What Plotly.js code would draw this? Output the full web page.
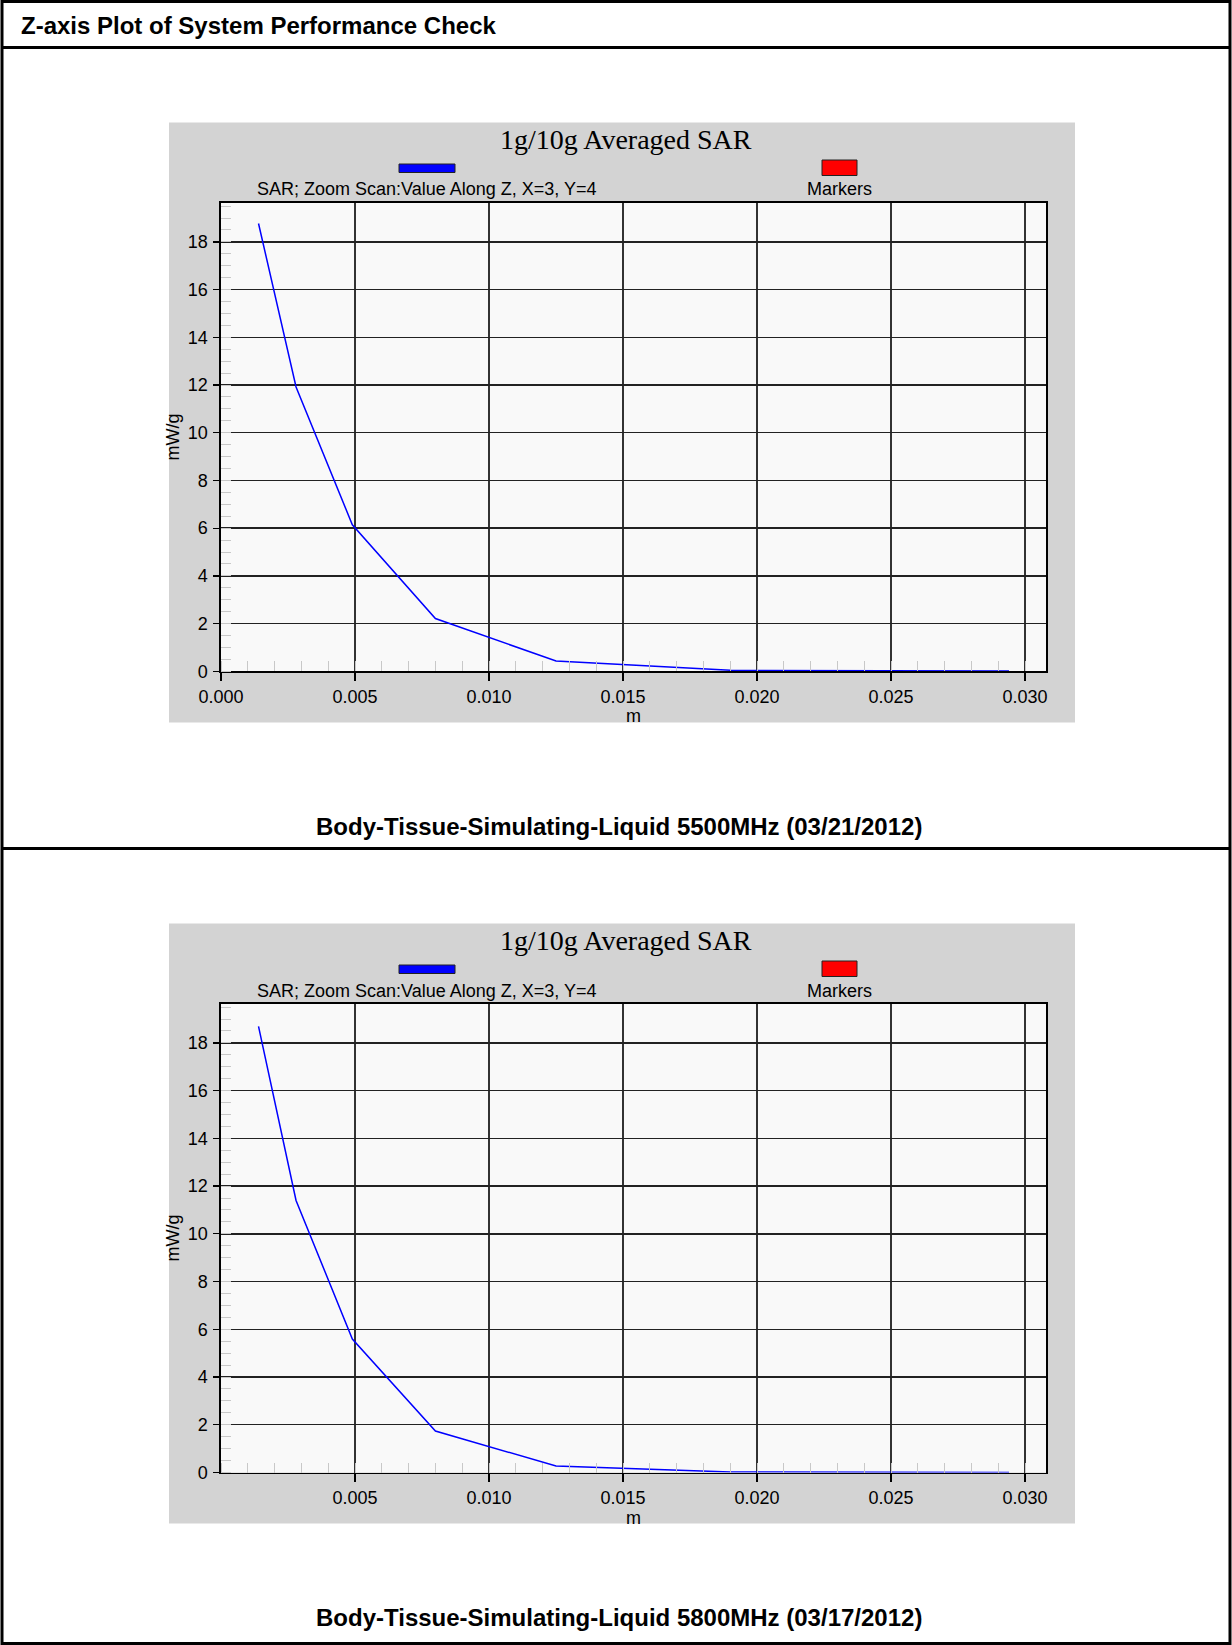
<!DOCTYPE html>
<html>
<head>
<meta charset="utf-8">
<script src="https://cdn.plot.ly/plotly-3.0.1.min.js"></script>
<style>
  html, body { margin: 0; padding: 0; background: #ffffff; }
  #chart { width: 1232px; height: 1645px; }
</style>
</head>
<body>
<div id="chart"></div>
<script>
// ---- Data ----
var zPosition1 = [0.0014, 0.0028, 0.0049, 0.0080, 0.0125, 0.0190, 0.0294];
var sarValues1 = [18.77, 11.92, 6.14, 2.21, 0.43, 0.04, 0.01];
var zPosition2 = [0.0014, 0.0028, 0.0049, 0.0080, 0.0125, 0.0190, 0.0294];
var sarValues2 = [18.69, 11.40, 5.59, 1.74, 0.27, 0.02, 0.005];

var xTicks1 = [0.000, 0.005, 0.010, 0.015, 0.020, 0.025, 0.030];
var xTickText1 = ['0.000', '0.005', '0.010', '0.015', '0.020', '0.025', '0.030'];
var xTicks2 = [0.005, 0.010, 0.015, 0.020, 0.025, 0.030];
var xTickText2 = ['0.005', '0.010', '0.015', '0.020', '0.025', '0.030'];
var yTicks = [0, 2, 4, 6, 8, 10, 12, 14, 16, 18];

var pageTitle = 'Z-axis Plot of System Performance Check';
var chartTitle = '1g/10g Averaged SAR';
var seriesName = 'SAR; Zoom Scan:Value Along Z, X=3, Y=4';
var markersName = 'Markers';
var caption1 = 'Body-Tissue-Simulating-Liquid 5500MHz (03/21/2012)';
var caption2 = 'Body-Tissue-Simulating-Liquid 5800MHz (03/17/2012)';
var xLabel = 'm';
var yLabel = 'mW/g';

// ---- Layout helpers (pixel -> paper) ----
var W = 1232, H = 1645;
function PX(x) { return x / W; }
function PY(y) { return 1 - y / H; }

var SANS = 'Liberation Sans, Arial, sans-serif';
var SERIF = 'Liberation Serif, Times New Roman, serif';

var traces = [
  { x: zPosition1, y: sarValues1, type: 'scatter', mode: 'lines', name: seriesName,
    line: { color: '#0000ff', width: 1.5 }, xaxis: 'x', yaxis: 'y', showlegend: false },
  { x: zPosition2, y: sarValues2, type: 'scatter', mode: 'lines', name: seriesName,
    line: { color: '#0000ff', width: 1.5 }, xaxis: 'x2', yaxis: 'y2', showlegend: false }
];

function xAxis(ticks, texts, anchor, r0) {
  return {
    domain: [PX(221), PX(1046)],
    anchor: anchor,
    range: [r0, 0.03078],
    tickmode: 'array', tickvals: ticks, ticktext: texts,
    ticks: 'outside', ticklen: 8, tickwidth: 1.3, tickcolor: '#000',
    ticklabelstandoff: 0,
    showgrid: true, gridcolor: '#333', gridwidth: 1.4,
    zeroline: false,
    showline: true, linecolor: '#000', linewidth: 1.6, mirror: true,
    tickfont: { family: SANS, size: 18, color: '#000' },
    title: { text: xLabel, font: { family: SANS, size: 18, color: '#000' }, standoff: 3 },
    minor: { dtick: 0.001, ticks: 'inside', ticklen: 10, tickcolor: '#c8c8c8', tickwidth: 1, showgrid: false },
    fixedrange: true
  };
}
function yAxis(domainY, anchor) {
  return {
    domain: domainY,
    anchor: anchor,
    range: [0, 19.65],
    tickmode: 'array', tickvals: yTicks,
    ticks: 'outside', ticklen: 6, tickwidth: 1.3, tickcolor: '#000',
    ticklabelstandoff: 2,
    showgrid: true, gridcolor: '#222', gridwidth: 1.4,
    zeroline: false,
    showline: true, linecolor: '#000', linewidth: 1.6, mirror: true,
    tickfont: { family: SANS, size: 18, color: '#000' },
    title: { text: yLabel, font: { family: SANS, size: 18, color: '#000' }, standoff: 3 },
    minor: { dtick: 0.5, ticks: 'inside', ticklen: 10, tickcolor: '#c8c8c8', tickwidth: 1, showgrid: false },
    fixedrange: true
  };
}

var dom1 = [PY(671.3), PY(202.5)];
var dom2 = [PY(1472.5), PY(1003.5)];

var shapes = [];
var annotations = [];

// outer frame + separators
shapes.push({ type: 'rect', xref: 'paper', yref: 'paper', x0: PX(2), x1: PX(1230), y0: PY(1643.5), y1: PY(1.5),
  line: { color: '#000', width: 3 }, fillcolor: 'rgba(0,0,0,0)', layer: 'above' });
shapes.push({ type: 'line', xref: 'paper', yref: 'paper', x0: PX(2), x1: PX(1230), y0: PY(47.5), y1: PY(47.5),
  line: { color: '#000', width: 3 }, layer: 'above' });
shapes.push({ type: 'line', xref: 'paper', yref: 'paper', x0: PX(2), x1: PX(1230), y0: PY(848.5), y1: PY(848.5),
  line: { color: '#000', width: 3 }, layer: 'above' });

annotations.push({ xref: 'paper', yref: 'paper', x: PX(19), y: PY(26), xanchor: 'left', yanchor: 'middle',
  text: '<b>' + pageTitle + '</b>', showarrow: false, font: { family: SANS, size: 24, color: '#000' } });

function panel(off, dom, caption, capY) {
  // gray panel
  shapes.push({ type: 'rect', xref: 'paper', yref: 'paper', x0: PX(169), x1: PX(1075), y0: PY(722.5 + off), y1: PY(122.5 + off),
    line: { width: 0 }, fillcolor: '#d3d3d3', layer: 'below' });
  // plot area background (drawn over the gray panel)
  shapes.push({ type: 'rect', xref: 'paper', yref: 'paper', x0: PX(221), x1: PX(1046), y0: dom[0], y1: dom[1],
    line: { width: 0 }, fillcolor: '#f9f9f9', layer: 'below' });
  // legend swatches
  shapes.push({ type: 'rect', xref: 'paper', yref: 'paper', x0: PX(399), x1: PX(455), y0: PY(172.5 + off), y1: PY(164 + off),
    line: { color: '#222', width: 1 }, fillcolor: '#0000ff', layer: 'above' });
  shapes.push({ type: 'rect', xref: 'paper', yref: 'paper', x0: PX(822), x1: PX(857), y0: PY(175.5 + off), y1: PY(160 + off),
    line: { color: '#222', width: 1 }, fillcolor: '#ff0000', layer: 'above' });
  annotations.push({ xref: 'paper', yref: 'paper', x: PX(626), y: PY(139 + off), xanchor: 'center', yanchor: 'middle',
    text: chartTitle, showarrow: false, font: { family: SERIF, size: 28, color: '#000' } });
  annotations.push({ xref: 'paper', yref: 'paper', x: PX(427), y: PY(189.5 + off), xanchor: 'center', yanchor: 'middle',
    text: seriesName, showarrow: false, font: { family: SANS, size: 18, color: '#000' } });
  annotations.push({ xref: 'paper', yref: 'paper', x: PX(840), y: PY(189.5 + off), xanchor: 'center', yanchor: 'middle',
    text: markersName, showarrow: false, font: { family: SANS, size: 18, color: '#000' } });
  annotations.push({ xref: 'paper', yref: 'paper', x: PX(619), y: PY(capY), xanchor: 'center', yanchor: 'middle',
    text: '<b>' + caption + '</b>', showarrow: false, font: { family: SANS, size: 24, color: '#000' } });
}
panel(0, dom1, caption1, 827);
panel(801, dom2, caption2, 1617);

var layout = {
  width: W, height: H,
  margin: { l: 0, r: 0, t: 0, b: 0, pad: 0 },
  paper_bgcolor: '#ffffff',
  plot_bgcolor: 'rgba(0,0,0,0)',
  showlegend: false,
  xaxis: xAxis(xTicks1, xTickText1, 'y', 0),
  yaxis: yAxis(dom1, 'x'),
  xaxis2: xAxis(xTicks2, xTickText2, 'y2', 0),
  yaxis2: yAxis(dom2, 'x2'),
  shapes: shapes,
  annotations: annotations
};

Plotly.newPlot('chart', traces, layout, { displayModeBar: false, staticPlot: true });
</script>
</body>
</html>
